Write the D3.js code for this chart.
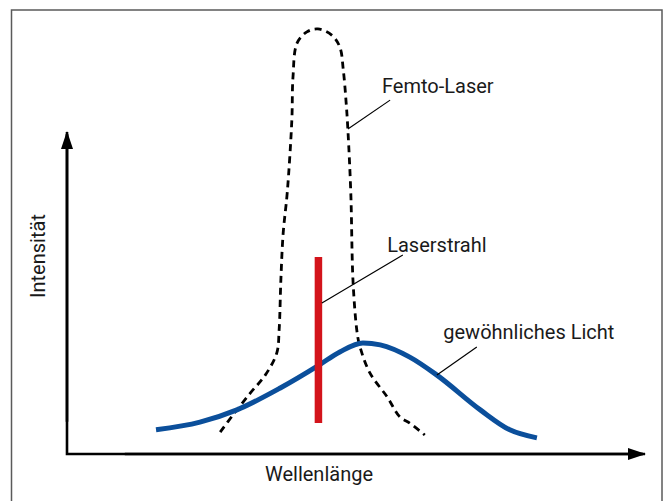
<!DOCTYPE html>
<html>
<head>
<meta charset="utf-8">
<script src="https://cdn.jsdelivr.net/npm/d3@7"></script>
<style>
  html, body { margin: 0; padding: 0; background: #fff; }
  svg text { font-family: Roboto, Lato, sans-serif; fill: #1a1a1a; }
</style>
</head>
<body>
<div id="chart"></div>
<script>
  // ordinary light (blue curve): wavelength / intensity, arbitrary units
  var lightX = [15.4, 23.0, 29.4, 36.9, 43.6, 47.2, 51.2, 54.2, 59.3, 64.0, 71.5, 76.6, 81.3];
  var lightY = [7.5, 9.9, 13.7, 20.5, 27.6, 31.7, 34.5, 33.9, 30.1, 24.5, 13.7, 7.5, 5.0];

  // femto laser spectrum (dashed), traced left flank -> top -> right flank
  var femtoX = [26.5, 28.7, 31.7, 34.3, 36.3, 36.7, 37.0, 37.4, 38.1, 38.9, 39.1, 39.8, 41.5, 43.4,
                45.8, 47.2, 47.8, 48.3, 48.6, 49.1, 49.5, 50.2, 50.7, 52.4, 55.4, 57.6, 59.3, 61.9];
  var femtoY = [6.8, 12.1, 18.9, 24.5, 31.4, 38.5, 54.0, 68.6, 81.1, 103.7, 117.1, 127.6, 131.1, 132.0,
                130.1, 126.4, 119.3, 109.0, 100.6, 81.1, 53.1, 37.6, 33.2, 25.2, 17.7, 11.5, 9.6, 5.9];

  // laser beam (single line)
  var beamX = 43.5;
  var beamY = [9.6, 61.2];

  // labels with leader lines: [from x, from y, to x, to y], text anchor
  var labelText = ["Femto-Laser", "Laserstrahl", "gewöhnliches Licht"];
  var leaders = [[48.6, 100.9, 55.9, 109.9], [44.1, 46.9, 58.1, 61.8], [64.0, 24.5, 70.9, 33.2]];
  var labelPos = [[54.5, 112.1], [55.4, 62.7], [65.1, 35.7]];

  var xTitle = "Wellenlänge";
  var yTitle = "Intensität";

  var W = 664, H = 501;
  var x = d3.scaleLinear().domain([0, 100]).range([67, 645]);
  var y = d3.scaleLinear().domain([0, 100]).range([454, 132]);

  var svg = d3.select("#chart").append("svg")
    .attr("width", W)
    .attr("height", H);

  // frame
  svg.append("rect")
    .attr("x", 11.5).attr("y", 10)
    .attr("width", 650.5).attr("height", 520)
    .attr("fill", "none")
    .attr("stroke", "#5a5a5a")
    .attr("stroke-width", 1.5);

  var defs = svg.append("defs");
  defs.append("marker")
    .attr("id", "arrow")
    .attr("viewBox", "0 0 18 12")
    .attr("refX", 17).attr("refY", 6)
    .attr("markerWidth", 18).attr("markerHeight", 12)
    .attr("markerUnits", "userSpaceOnUse")
    .attr("orient", "auto")
    .append("path")
    .attr("d", "M0,0L18,6L0,12Z")
    .attr("fill", "#000");

  // axes
  svg.append("path")
    .attr("d", d3.line()([[x(0), y(100) + 2], [x(0), y(0)], [x(100) - 2, y(0)]]))
    .attr("fill", "none")
    .attr("stroke", "#000")
    .attr("stroke-width", 2.6);
  svg.append("line")
    .attr("x1", x(0)).attr("y1", y(10))
    .attr("x2", x(0)).attr("y2", y(100))
    .attr("stroke", "#000").attr("stroke-width", 2.6)
    .attr("marker-end", "url(#arrow)");
  svg.append("line")
    .attr("x1", x(10)).attr("y1", y(0))
    .attr("x2", x(100)).attr("y2", y(0))
    .attr("stroke", "#000").attr("stroke-width", 2.6)
    .attr("marker-end", "url(#arrow)");

  // femto laser (dashed)
  var femto = femtoX.map(function (d, i) { return [d, femtoY[i]]; });
  svg.append("path")
    .datum(femto)
    .attr("d", d3.line()
      .x(function (d) { return x(d[0]); })
      .y(function (d) { return y(d[1]); })
      .curve(d3.curveCatmullRom.alpha(0.5)))
    .attr("fill", "none")
    .attr("stroke", "#000")
    .attr("stroke-width", 2.8)
    .attr("stroke-dasharray", "7,5");

  // ordinary light
  var light = lightX.map(function (d, i) { return [d, lightY[i]]; });
  svg.append("path")
    .datum(light)
    .attr("d", d3.line()
      .x(function (d) { return x(d[0]); })
      .y(function (d) { return y(d[1]); })
      .curve(d3.curveMonotoneX))
    .attr("fill", "none")
    .attr("stroke", "#0b4f9b")
    .attr("stroke-width", 5);

  // laser beam
  svg.append("line")
    .attr("x1", x(beamX)).attr("x2", x(beamX))
    .attr("y1", y(beamY[0])).attr("y2", y(beamY[1]))
    .attr("stroke", "#d3141b")
    .attr("stroke-width", 7.5);

  // leader lines + labels
  svg.append("g").selectAll("line")
    .data(leaders)
    .enter().append("line")
    .attr("x1", function (d) { return x(d[0]); })
    .attr("y1", function (d) { return y(d[1]); })
    .attr("x2", function (d) { return x(d[2]); })
    .attr("y2", function (d) { return y(d[3]); })
    .attr("stroke", "#000")
    .attr("stroke-width", 1.2);

  svg.append("g").selectAll("text")
    .data(labelText)
    .enter().append("text")
    .attr("x", function (d, i) { return x(labelPos[i][0]); })
    .attr("y", function (d, i) { return y(labelPos[i][1]); })
    .attr("font-size", 20)
    .text(function (d) { return d; });

  // axis titles
  svg.append("text")
    .attr("x", x(43.6)).attr("y", 481)
    .attr("text-anchor", "middle")
    .attr("font-size", 20)
    .text(xTitle);

  svg.append("text")
    .attr("transform", "translate(45," + 256 + ") rotate(-90)")
    .attr("text-anchor", "middle")
    .attr("font-size", 20)
    .text(yTitle);
</script>
</body>
</html>
